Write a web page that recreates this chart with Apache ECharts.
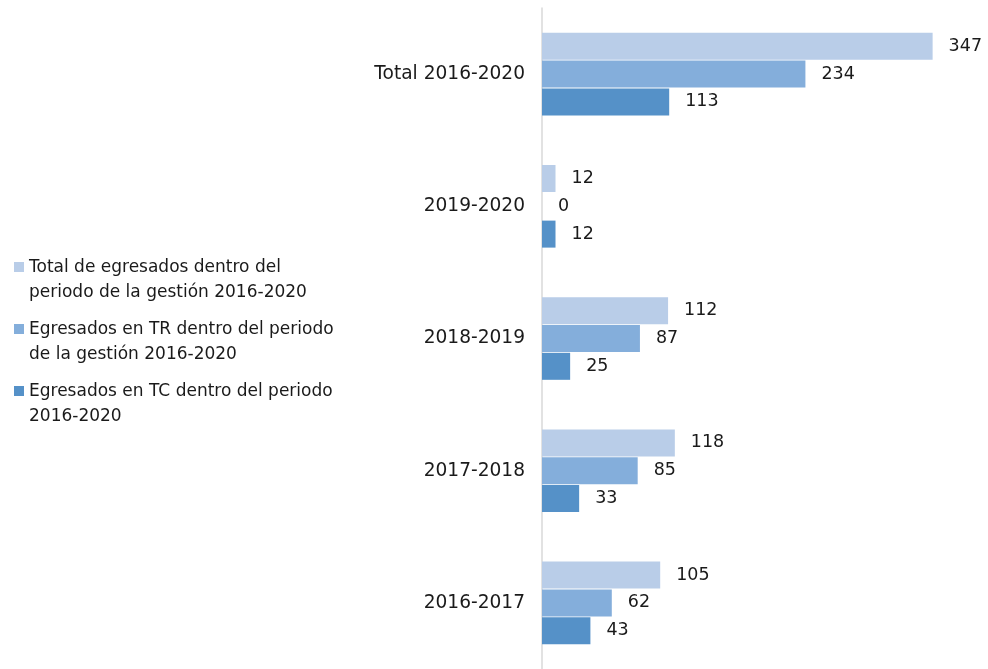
<!DOCTYPE html>
<html>
<head>
<meta charset="utf-8">
<script src="https://cdn.jsdelivr.net/npm/echarts@6/dist/echarts.min.js"></script>
<style>
  html, body { margin: 0; padding: 0; background: #fff; }
  #main { width: 988px; height: 669px; }
</style>
</head>
<body>
<div id="main"></div>
<script>
// categories, top to bottom
var categories = ['Total 2016-2020', '2019-2020', '2018-2019', '2017-2018', '2016-2017'];

var seriesNames = [
  'Total de egresados dentro del\nperiodo de la gestión 2016-2020',
  'Egresados en TR dentro del periodo\nde la gestión 2016-2020',
  'Egresados en TC dentro del periodo\n2016-2020'
];

var totalValues = [347, 12, 112, 118, 105];
var trValues = [234, 0, 87, 85, 62];
var tcValues = [113, 12, 25, 33, 43];

var colors = ['#b9cde8', '#84aedb', '#5591c8'];
var fontFam = 'DejaVu Sans';

// square at top of a tall box, so the icon sits beside the first text line
var legendIcon = 'path://M0,7L10,7L10,17L0,17Z M0,0L0.01,0Z M0,50L0.01,50Z';

function makeSeries(name, data, color) {
  return {
    name: name,
    type: 'bar',
    data: data,
    barWidth: 27,
    barGap: '3%',
    itemStyle: { color: color },
    label: {
      show: true,
      position: 'right',
      distance: 16,
      color: '#1a1a1a',
      fontFamily: fontFam,
      fontSize: 17.5
    }
  };
}

var chart = echarts.init(document.getElementById('main'));
chart.setOption({
  backgroundColor: '#fff',
  animation: false,
  legend: {
    orient: 'vertical',
    left: 9,
    top: 250,
    itemWidth: 10,
    itemHeight: 50,
    itemGap: 12,
    icon: legendIcon,
    data: seriesNames,
    textStyle: {
      fontFamily: fontFam,
      fontSize: 17,
      lineHeight: 25,
      color: '#1a1a1a'
    }
  },
  grid: { left: 542, right: 52, top: 8, bottom: -1 },
  xAxis: {
    type: 'value',
    min: 0,
    max: 350,
    show: false
  },
  yAxis: {
    type: 'category',
    inverse: true,
    data: categories,
    axisLine: { lineStyle: { color: '#d9d9d9', width: 1.5 } },
    axisTick: { length: 6, lineStyle: { color: '#cfcfcf', width: 1.5 } },
    axisLabel: {
      margin: 17,
      color: '#1a1a1a',
      fontFamily: fontFam,
      fontSize: 18.6
    }
  },
  series: [
    makeSeries(seriesNames[0], totalValues, colors[0]),
    makeSeries(seriesNames[1], trValues, colors[1]),
    makeSeries(seriesNames[2], tcValues, colors[2])
  ]
});
</script>
</body>
</html>
